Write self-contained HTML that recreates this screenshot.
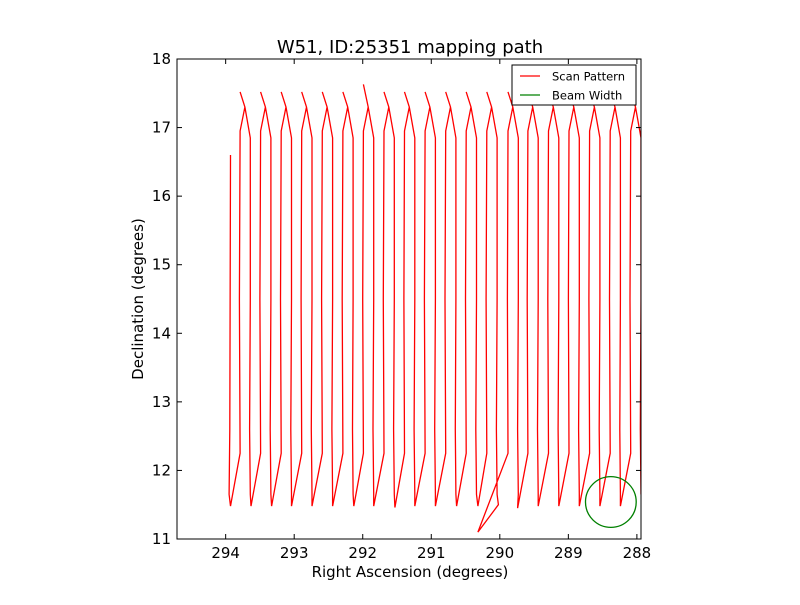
<!DOCTYPE html>
<html><head><meta charset="utf-8"><style>
body{margin:0;background:#fff;}
svg text{font-family:"DejaVu Sans","Liberation Sans",sans-serif;}
</style></head><body>
<svg id="c" width="800" height="600" viewBox="0 0 800 600">
<rect width="800" height="600" fill="#fff"/>
<text x="410" y="53" font-size="18" text-anchor="middle">W51, ID:25351 mapping path</text>
<text x="410" y="577" font-size="15" text-anchor="middle">Right Ascension (degrees)</text>
<text transform="translate(143,299) rotate(-90)" font-size="15" text-anchor="middle">Declination (degrees)</text>
<defs><clipPath id="pc"><rect x="177" y="59" width="464" height="480"/></clipPath></defs>
<g id="plot" clip-path="url(#pc)"></g>
<g id="axes"></g>
<g>
<rect x="512" y="65" width="124" height="40" fill="#fff" stroke="#000" stroke-width="1"/>
<line x1="520" y1="76" x2="540" y2="76" stroke="red" stroke-width="1.2"/>
<text x="552" y="80.5" font-size="11.5">Scan Pattern</text>
<line x1="520" y1="95" x2="540" y2="95" stroke="green" stroke-width="1.2"/>
<text x="552" y="99.5" font-size="11.5">Beam Width</text>
</g>
</svg>
<script>
// Data
const upLegRA = [293.79,293.49,293.19,292.89,292.59,292.29,291.99,291.69,291.39,291.09,290.79,290.49,290.19,289.88,289.59,289.29,288.99,288.69,288.39,288.09];
const bottomRA = [293.93,293.63,293.33,293.04,292.74,292.44,292.13,291.84,291.53,291.24,290.94,290.63,290.32,290.32,289.74,289.44,289.14,288.84,288.54,288.24];
const bottomDec = [11.48,11.48,11.48,11.48,11.48,11.48,11.48,11.48,11.46,11.48,11.48,11.48,11.48,11.1,11.45,11.48,11.48,11.48,11.48,11.48];
const peakDec = [17.52,17.52,17.52,17.52,17.52,17.52,17.63,17.52,17.52,17.52,17.52,17.52,17.52,17.52,17.52,17.52,17.52,17.52,17.52,17.52];
const startPoint = [293.93,16.6];
const detourPoint = [290.02,11.5];
const beamCenter = [288.38,11.54];
const beamRadius = 0.37;
const xTicks = [294,293,292,291,290,289,288];
const yTicks = [11,12,13,14,15,16,17,18];

const X0=177,X1=641,Y0=59,Y1=539, raMax=294.71, raMin=287.94, decMin=11, decMax=18;
const xs = v => X0 + (raMax - v)/(raMax-raMin)*(X1-X0);
const ys = v => Y1 - (v-decMin)/(decMax-decMin)*(Y1-Y0);
const NS='http://www.w3.org/2000/svg';
const plot=document.getElementById('plot'), axes=document.getElementById('axes');

let pts=[[startPoint[0],startPoint[1]],[startPoint[0]+0.01,12.6],[startPoint[0]+0.02,11.65]];
for(let k=0;k<upLegRA.length;k++){
  const L=upLegRA[k];
  if(bottomDec[k]<11.3) pts.push([detourPoint[0],detourPoint[1]]);
  pts.push([bottomRA[k],bottomDec[k]]);
  pts.push([L,12.25]);
  pts.push([L+0.01,14.5]);
  pts.push([L,16.95]);
  pts.push([L-0.07,17.3]);
  pts.push([L,peakDec[k]]);
  pts.push([L-0.07,17.3]);
  pts.push([L-0.15,16.85]);
  pts.push([L-0.15,14.5]);
  pts.push([L-0.14,12.6]);
  pts.push([L-0.15,11.65]);
}
const d=pts.map((p,i)=>(i?'L':'M')+xs(p[0]).toFixed(1)+' '+ys(p[1]).toFixed(1)).join(' ');
const path=document.createElementNS(NS,'path');
path.setAttribute('d',d);path.setAttribute('fill','none');path.setAttribute('stroke','red');path.setAttribute('stroke-width','1.3');


plot.appendChild(path);

const circ=document.createElementNS(NS,'ellipse');
circ.setAttribute('cx',xs(beamCenter[0]));circ.setAttribute('cy',ys(beamCenter[1]));
circ.setAttribute('rx',beamRadius*(X1-X0)/(raMax-raMin));circ.setAttribute('ry',beamRadius*(Y1-Y0)/(decMax-decMin));
circ.setAttribute('fill','none');circ.setAttribute('stroke','green');circ.setAttribute('stroke-width','1.3');


plot.appendChild(circ);

function ln(x1,y1,x2,y2,name){const l=document.createElementNS(NS,'line');l.setAttribute('x1',x1);l.setAttribute('y1',y1);l.setAttribute('x2',x2);l.setAttribute('y2',y2);l.setAttribute('stroke','#000');l.setAttribute('stroke-width','1');


axes.appendChild(l);}
function tx(x,y,s,anchor,name){const t=document.createElementNS(NS,'text');t.setAttribute('x',x);t.setAttribute('y',y);t.setAttribute('font-size','15');t.setAttribute('text-anchor',anchor);t.textContent=s;


axes.appendChild(t);}
xTicks.forEach(v=>{const x=xs(v);ln(x,Y1,x,Y1-5,'x-tick');ln(x,Y0,x,Y0+5,'x-tick-top');tx(x,Y1+19,String(v),'middle','x-tick-label');});
yTicks.forEach(v=>{const y=ys(v);ln(X0,y,X0+5,y,'y-tick');ln(X1,y,X1-5,y,'y-tick-right');tx(X0-6,y+5,String(v),'end','y-tick-label');});
const fr=document.createElementNS(NS,'rect');
fr.setAttribute('x',X0);fr.setAttribute('y',Y0);fr.setAttribute('width',X1-X0);fr.setAttribute('height',Y1-Y0);fr.setAttribute('fill','none');fr.setAttribute('stroke','#000');fr.setAttribute('stroke-width','1');


axes.appendChild(fr);
</script>
</body></html>
